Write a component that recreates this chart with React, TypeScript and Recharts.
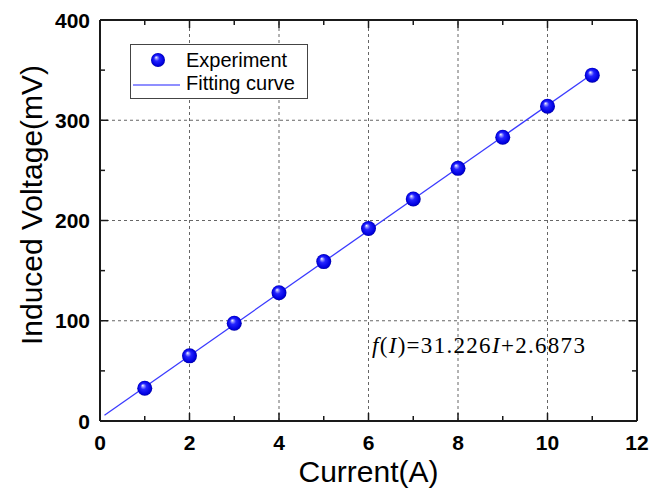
import React from 'react';
import { ComposedChart, Scatter, XAxis, YAxis, ReferenceLine, Legend } from 'recharts';

const currents = [1, 2, 3, 4, 5, 6, 7, 8, 9, 10, 11];
const voltages = [32.6, 65, 97.5, 128, 159, 192, 221.5, 252, 283, 314, 345];
const fitCurrents = [0.1, 11];
const fitVoltages = [5.8, 346.2];
const xTicks = [0, 1, 2, 3, 4, 5, 6, 7, 8, 9, 10, 11, 12];
const yTicks = [0, 50, 100, 150, 200, 250, 300, 350, 400];
const xGrid = [2, 4, 6, 8, 10];
const yGrid = [100, 200, 300];
const xTitle = 'Current(A)';
const yTitle = 'Induced Voltage(mV)';
const seriesNames = ['Experiment', 'Fitting curve'];

const expData = currents.map((c, i) => ({ x: c, y: voltages[i] }));
const fitData = fitCurrents.map((c, i) => ({ x: c, y: fitVoltages[i] }));

const SANS = '"Liberation Sans", Arial, sans-serif';
const SERIF = '"Liberation Serif", "Times New Roman", serif';
const AX = '#1a1a1a';
const LINE = '#3a3aff';

const Sphere = (props: any) => {
  const { cx, cy } = props;
  if (cx == null || cy == null) return <g />;
  return <circle cx={cx} cy={cy} r={7.5} fill="url(#sphereGrad)" />;
};
const NoShape = () => <g />;

const BottomTick = (props: any) => {
  const { x, y, payload } = props;
  const major = payload.value % 2 === 0;
  return (
    <g>
      <line x1={x} x2={x} y1={y} y2={y - (major ? 8 : 5)} stroke={AX} strokeWidth={1.5} />
      {major && (
        <text x={x} y={y + 29} textAnchor="middle" fontFamily={SANS} fontWeight="bold" fontSize={21} fill="#000">
          {payload.value}
        </text>
      )}
    </g>
  );
};
const TopTick = (props: any) => {
  const { x, y, payload } = props;
  const major = payload.value % 2 === 0;
  return <line x1={x} x2={x} y1={y} y2={y + (major ? 8 : 5)} stroke={AX} strokeWidth={1.5} />;
};
const LeftTick = (props: any) => {
  const { x, y, payload } = props;
  const major = payload.value % 100 === 0;
  return (
    <g>
      <line x1={x} x2={x + (major ? 8 : 5)} y1={y} y2={y} stroke={AX} strokeWidth={1.5} />
      {major && (
        <text x={x - 10} y={y + 7.5} textAnchor="end" fontFamily={SANS} fontWeight="bold" fontSize={21} fill="#000">
          {payload.value}
        </text>
      )}
    </g>
  );
};
const RightTick = (props: any) => {
  const { x, y, payload } = props;
  const major = payload.value % 100 === 0;
  return <line x1={x} x2={x - (major ? 8 : 5)} y1={y} y2={y} stroke={AX} strokeWidth={1.5} />;
};

const XTitle = () => (
  <text x={368.5} y={482} textAnchor="middle" fontFamily={SANS} fontSize={30} fill="#000">
    {xTitle}
  </text>
);
const YTitle = () => (
  <text transform="translate(42,205) rotate(-90)" x={0} y={0} textAnchor="middle" fontFamily={SANS} fontSize={30} fill="#000">
    {yTitle}
  </text>
);

const LegendBox = () => (
  <svg width={178} height={55} style={{ display: 'block' }}>
    <rect x={0.5} y={0.5} width={177} height={54} fill="#fff" stroke="#444" strokeWidth={1} />
    <circle cx={28} cy={16} r={7} fill="url(#sphereGrad)" />
    <line x1={3} x2={50} y1={41} y2={41} stroke="#6a6aff" strokeWidth={1.5} />
    <text x={56} y={23} fontFamily={SANS} fontSize={20} fill="#000">{seriesNames[0]}</text>
    <text x={56} y={46} fontFamily={SANS} fontSize={20} fill="#000">{seriesNames[1]}</text>
  </svg>
);

export default function App() {
  return (
    <div style={{ position: 'absolute', left: 0, top: 0, width: 651, height: 492, overflow: 'hidden' }}>
      <ComposedChart width={651} height={492} margin={{ top: 19, right: 13, bottom: 0, left: 0 }} style={{ overflow: 'visible' }}>
        <defs>
          <radialGradient id="sphereGrad" cx="50%" cy="50%" r="50%" fx="36%" fy="30%">
            <stop offset="0%" stopColor="#ffffff" />
            <stop offset="16%" stopColor="#9a9aff" />
            <stop offset="40%" stopColor="#2424ff" />
            <stop offset="85%" stopColor="#0000e0" />
            <stop offset="100%" stopColor="#0000a8" />
          </radialGradient>
        </defs>
        <XAxis
          xAxisId={0}
          dataKey="x"
          type="number"
          orientation="bottom"
          domain={[0, 12]}
          ticks={xTicks}
          interval={0}
          height={71}
          tickSize={0}
          tickMargin={0}
          tickLine={false}
          tick={<BottomTick />}
          axisLine={{ stroke: AX, strokeWidth: 2 }}
          label={<XTitle />}
        />
        <XAxis
          xAxisId="top"
          dataKey="x"
          type="number"
          orientation="top"
          domain={[0, 12]}
          ticks={xTicks}
          interval={0}
          height={1}
          tickSize={0}
          tickMargin={0}
          tickLine={false}
          tick={<TopTick />}
          axisLine={{ stroke: AX, strokeWidth: 2 }}
        />
        <YAxis
          yAxisId={0}
          dataKey="y"
          type="number"
          orientation="left"
          domain={[0, 400]}
          ticks={yTicks}
          interval={0}
          width={100}
          tickSize={0}
          tickMargin={0}
          tickLine={false}
          tick={<LeftTick />}
          axisLine={{ stroke: AX, strokeWidth: 2 }}
          label={<YTitle />}
        />
        <YAxis
          yAxisId="right"
          dataKey="y"
          type="number"
          orientation="right"
          domain={[0, 400]}
          ticks={yTicks}
          interval={0}
          width={1}
          tickSize={0}
          tickMargin={0}
          tickLine={false}
          tick={<RightTick />}
          axisLine={{ stroke: AX, strokeWidth: 2 }}
        />
        {xGrid.map((v) => (
          <ReferenceLine key={'gx' + v} xAxisId={0} yAxisId={0} x={v} stroke="#666" strokeWidth={1} strokeDasharray="3 3" />
        ))}
        {yGrid.map((v) => (
          <ReferenceLine key={'gy' + v} xAxisId={0} yAxisId={0} y={v} stroke="#666" strokeWidth={1} strokeDasharray="3 3" />
        ))}
        <Scatter
          name={seriesNames[1]}
          data={fitData}
          xAxisId="top"
          yAxisId="right"
          line={{ stroke: LINE, strokeWidth: 1.3 }}
          shape={<NoShape />}
          isAnimationActive={false}
        />
        <Scatter
          name={seriesNames[0]}
          data={expData}
          xAxisId={0}
          yAxisId={0}
          shape={<Sphere />}
          isAnimationActive={false}
        />
        <Legend
          layout="horizontal"
          verticalAlign="middle"
          align="center"
          content={() => <LegendBox />}
          wrapperStyle={{ left: 130, top: 44, width: 178, height: 55 }}
        />
      </ComposedChart>
      <svg width={651} height={492} style={{ position: 'absolute', left: 0, top: 0, pointerEvents: 'none' }}>
        <text x={372} y={353} fontFamily={SERIF} fontSize={23} letterSpacing={1.3} fill="#000">
          <tspan fontStyle="italic">f</tspan>(<tspan fontStyle="italic">I</tspan>)=31.226<tspan fontStyle="italic">I</tspan>+2.6873
        </text>
      </svg>
    </div>
  );
}
